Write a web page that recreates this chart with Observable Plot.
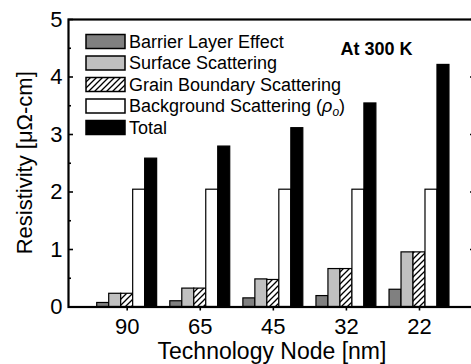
<!DOCTYPE html>
<html><head><meta charset="utf-8">
<script src="https://cdn.jsdelivr.net/npm/d3@7"></script>
<script src="https://cdn.jsdelivr.net/npm/@observablehq/plot@0.6"></script>
<style>
html,body{margin:0;padding:0;background:#fff;overflow:hidden}
#chart{width:471px;height:364px;overflow:hidden}
</style>
</head><body><div id="chart"></div>
<script>
// ---- data ----
const nodes = ["90", "65", "45", "32", "22"];
const series = ["Barrier Layer Effect", "Surface Scattering", "Grain Boundary Scattering", "Background Scattering", "Total"];
const barrier = [0.07, 0.10, 0.15, 0.19, 0.30];
const surface = [0.23, 0.32, 0.48, 0.66, 0.95];
const grain = [0.23, 0.32, 0.47, 0.66, 0.95];
const background = [2.04, 2.04, 2.04, 2.04, 2.04];
const total = [2.58, 2.79, 3.11, 3.54, 4.21];
const yTicks = [0, 1, 2, 3, 4, 5];
const yMinor = [0.5, 1.5, 2.5, 3.5, 4.5];
const fills = ["#808080", "#c0c0c0", "url(#hatch)", "#ffffff", "#000000"];

// ---- table built from the arrays ----
const barW = 0.164; // bar width in node units
const valuesBySeries = [barrier, surface, grain, background, total];
const rows = [];
valuesBySeries.forEach((vals, j) => vals.forEach((v, i) => rows.push({
  node: nodes[i], i, j, series: series[j], value: v,
  x1: i + (j - 2.5) * barW, x2: i + (j - 1.5) * barW
})));

const W = 482, H = 364, ML = 68, MR = 6, MT = 19, MB = 57.5;
const PW = W - ML - MR;
const font = "'Liberation Sans', Arial, Helvetica, sans-serif";

const plot = Plot.plot({
  width: W, height: H,
  marginLeft: ML, marginRight: MR, marginTop: MT, marginBottom: MB,
  style: {fontFamily: font, fontSize: "22px", color: "#000", background: "#fff", maxWidth: "none", overflow: "visible"},
  x: {domain: [-0.803, 4.78], axis: null},
  y: {domain: [0, 5], axis: null},
  marks: [
    ...series.map((s, j) => Plot.rect(rows.filter(d => d.j === j), {
      x1: "x1", x2: "x2", y1: 0, y2: "value",
      fill: fills[j], stroke: "#000", strokeWidth: 1.2
    })),
    Plot.ruleY(yTicks, {insetRight: PW - 5, stroke: "#000", strokeWidth: 1.6}),
    Plot.ruleY(yMinor, {insetRight: PW - 3, stroke: "#000", strokeWidth: 1.6}),
    Plot.ruleY(yTicks, {insetLeft: PW - 6, stroke: "#000", strokeWidth: 1.6}),
    Plot.axisX({ticks: [0, 1, 2, 3, 4], tickFormat: i => nodes[i], tickSize: 4, tickPadding: 7, label: null, strokeWidth: 1.6, fontSize: 22}),
    Plot.axisY({ticks: yTicks, tickFormat: d => String(d), tickSize: 0, tickPadding: 6, label: null, fontSize: 22}),
    Plot.frame({stroke: "#000", strokeWidth: 2.2})
  ]
});

const svg = d3.select(plot);
const defs = svg.insert("defs", ":first-child");
const pat = defs.append("pattern").attr("id", "hatch").attr("patternUnits", "userSpaceOnUse")
  .attr("width", 6).attr("height", 6);
pat.append("rect").attr("width", 6).attr("height", 6).attr("fill", "#fff");
pat.append("path").attr("d", "M-1,1 l2,-2 M0,6 l6,-6 M5,7 l2,-2")
  .attr("stroke", "#000").attr("stroke-width", 1.3);

// legend inside plot
const lg = svg.append("g").attr("font-family", font).attr("font-size", 18)
  .attr("fill", "#000").attr("text-anchor", "start");
series.forEach((s, k) => {
  const cy = 41.5 + 21.5 * k;
  lg.append("rect").attr("x", 86).attr("y", cy - 7).attr("width", 39).attr("height", 14)
    .attr("fill", fills[k]).attr("stroke", "#000").attr("stroke-width", 1.5);
  const t = lg.append("text").attr("x", 129).attr("y", cy + 6).attr("text-anchor", "start");
  if (k === 3) {
    t.append("tspan").text(s + " (");
    t.append("tspan").attr("font-style", "italic").text("ρ");
    t.append("tspan").attr("font-style", "italic").attr("font-size", 12).attr("dy", 4).text("o");
    t.append("tspan").attr("dy", -4).text(")");
  } else {
    t.text(s);
  }
});

svg.append("text").attr("x", 376.5).attr("y", 55).attr("text-anchor", "middle")
  .attr("font-family", font).attr("font-weight", "bold").attr("font-size", 18).text("At 300 K");

svg.append("text").attr("x", (ML + W - MR) / 2).attr("y", 359).attr("text-anchor", "middle")
  .attr("font-family", font).attr("font-size", 23).text("Technology Node [nm]");

svg.append("text").attr("transform", `translate(32,${(MT + H - MB) / 2}) rotate(-90)`)
  .attr("text-anchor", "middle").attr("font-family", font).attr("font-size", 22)
  .text("Resistivity [μΩ-cm]");

document.getElementById("chart").appendChild(plot);
</script>
</body></html>
